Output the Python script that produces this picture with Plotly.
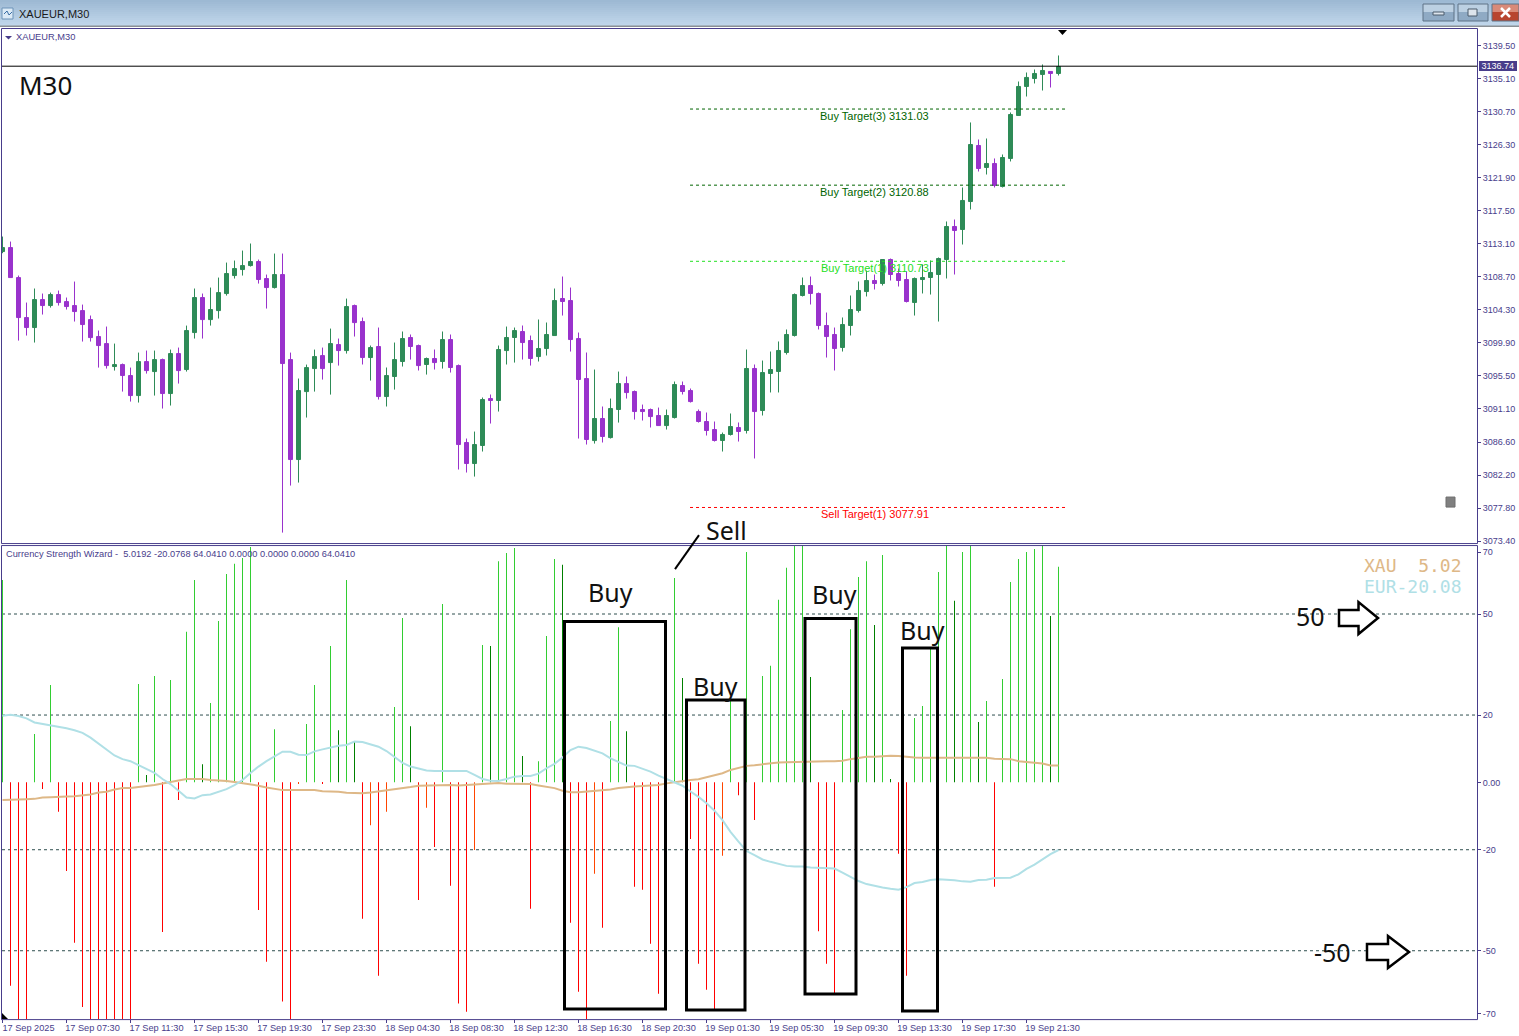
import plotly.graph_objects as go

W, H = 1519, 1036
Y_FIT = 1.003

# ---------- price data (XAUEUR, M30) ----------
opens = [3112.03,3112.56,3108.56,3103.23,3101.90,3105.63,3104.83,3106.30,3105.36,3104.83,3104.16,3102.96,3100.70,3099.76,3096.70,3096.96,3095.50,3092.83,3097.36,3096.03,3097.63,3093.10,3098.43,3096.30,3101.23,3105.90,3102.96,3104.16,3106.43,3108.83,3109.63,3110.16,3110.70,3108.43,3107.23,3108.96,3097.63,3084.30,3093.36,3096.43,3098.16,3097.23,3099.63,3098.83,3104.83,
3102.70,3097.90,3099.37,3092.70,3095.37,3097.37,3100.57,3099.50,3096.97,3097.77,3097.37,3100.30,3096.83,3086.57,3083.77,3086.17,3092.43,3092.17,3098.83,3100.57,3101.37,3100.17,3098.03,3099.10,3100.83,3105.77,3105.50,3100.43,3095.10,3086.83,3089.77,3087.23,3090.97,3094.43,3093.37,3090.97,3090.97,3090.17,3088.83,3089.90,3094.17,3093.50,3090.70,3089.37,
3088.30,3086.84,3087.64,3088.57,3088.17,3096.44,3090.84,3095.77,3096.04,3098.57,3100.84,3106.17,3107.50,3106.44,3102.17,3100.97,3099.24,3102.17,3104.17,3106.70,3108.17,3107.77,3110.97,3109.10,3108.30,3105.24,3108.30,3108.57,3108.97,3110.97,3115.37,3114.97,3118.70,3126.17,3123.24,3123.77,3120.70,3124.44,3130.17,3134.04,3135.10,3135.64,3136.04,3135.77]
closes = [3112.56,3108.56,3103.23,3101.90,3105.63,3104.83,3106.30,3105.23,3104.70,3104.03,3102.30,3100.56,3099.50,3096.83,3096.96,3095.50,3092.83,3097.36,3096.16,3097.63,3093.10,3098.43,3096.16,3101.50,3105.90,3102.96,3104.30,3106.56,3109.10,3109.76,3110.16,3110.70,3108.30,3107.23,3108.96,3097.10,3084.30,3093.50,3096.56,3098.03,3096.43,3099.76,3098.83,3104.70,3102.56,
3097.90,3099.23,3092.70,3095.50,3097.63,3100.43,3099.37,3096.83,3097.77,3097.23,3100.30,3096.57,3086.30,3083.77,3086.30,3092.30,3092.17,3098.97,3100.57,3101.50,3099.90,3097.77,3099.10,3100.97,3105.50,3105.37,3100.30,3094.97,3086.97,3089.77,3087.37,3091.10,3094.43,3093.23,3090.70,3090.70,3090.03,3088.83,3090.17,3094.30,3093.37,3092.03,3089.37,3088.17,
3086.84,3087.64,3088.70,3088.04,3096.44,3090.70,3095.90,3096.30,3098.84,3100.97,3106.30,3107.50,3106.44,3102.17,3100.70,3099.10,3102.30,3104.30,3106.84,3108.17,3107.77,3110.97,3108.97,3108.17,3105.37,3108.44,3108.57,3109.24,3111.10,3115.37,3114.84,3118.84,3126.30,3123.10,3123.77,3120.84,3124.57,3130.30,3134.04,3135.24,3135.77,3136.17,3135.77,3136.70]
highs = [3114.03,3113.36,3108.83,3105.23,3107.10,3106.43,3106.56,3106.83,3105.90,3108.03,3104.96,3103.50,3101.50,3102.03,3099.76,3097.10,3096.56,3098.56,3098.83,3098.83,3097.76,3098.96,3099.23,3102.16,3107.10,3106.43,3107.23,3108.56,3110.56,3110.83,3112.16,3113.10,3110.96,3108.96,3111.76,3111.76,3098.56,3095.10,3096.96,3098.96,3099.23,3101.76,3100.43,3105.76,3104.96,
3103.23,3099.50,3101.90,3096.57,3099.90,3101.37,3100.97,3099.63,3097.90,3098.97,3101.37,3100.97,3096.97,3087.10,3088.03,3092.57,3092.97,3099.50,3102.03,3101.90,3102.17,3100.83,3102.97,3102.57,3107.10,3108.70,3107.23,3101.23,3098.57,3096.30,3091.37,3092.43,3096.03,3095.37,3093.50,3091.63,3091.10,3091.23,3090.97,3094.70,3094.70,3093.77,3090.97,3090.57,
3089.37,3087.90,3090.44,3089.24,3098.97,3096.97,3097.50,3098.70,3100.04,3101.64,3106.44,3108.57,3108.70,3106.57,3103.90,3101.90,3103.24,3106.17,3108.04,3109.50,3108.97,3110.97,3111.10,3109.77,3109.37,3108.57,3110.30,3110.84,3111.24,3116.04,3116.30,3120.57,3129.24,3126.97,3127.10,3124.44,3124.97,3130.57,3134.70,3135.90,3136.30,3136.97,3136.04,3138.17]
lows = [3111.81,3108.56,3100.16,3100.83,3099.90,3103.63,3104.56,3104.83,3104.30,3102.70,3100.03,3100.03,3096.56,3096.43,3096.16,3093.36,3092.03,3091.90,3095.76,3092.83,3091.10,3091.50,3094.43,3096.03,3100.43,3100.43,3102.16,3103.10,3106.16,3108.43,3108.83,3110.03,3107.76,3104.43,3107.10,3074.56,3080.83,3081.23,3089.90,3093.36,3094.96,3092.96,3096.83,3098.43,3100.70,
3096.97,3094.83,3092.30,3091.37,3093.63,3096.70,3097.63,3096.17,3095.63,3096.30,3096.43,3095.90,3082.97,3082.57,3082.03,3085.37,3089.10,3090.70,3096.97,3097.23,3097.63,3096.83,3097.37,3098.17,3100.83,3103.50,3098.70,3087.10,3086.30,3086.43,3086.57,3087.10,3089.23,3092.43,3089.63,3089.50,3088.57,3088.83,3088.30,3089.77,3092.97,3091.90,3089.23,3087.50,
3086.70,3085.37,3087.50,3086.70,3087.77,3084.44,3090.17,3093.24,3093.24,3098.30,3100.70,3106.04,3104.97,3101.64,3097.90,3096.17,3098.70,3100.84,3103.90,3106.04,3106.97,3107.50,3108.17,3107.37,3105.24,3103.50,3106.44,3106.30,3102.70,3108.44,3108.97,3112.97,3117.64,3122.70,3122.30,3120.57,3120.57,3124.04,3130.17,3132.70,3134.44,3133.50,3133.90,3135.50]

# ---------- indicator data (Currency Strength Wizard) ----------
histogram = [60.1,-60.4,-75,-75,14.4,-2,28.9,-8.7,-26.3,-47.6,-66.7,-75,-75,-75,-75,-75,-75,29.2,2.2,31.6,-44.4,30.4,-5.2,44.7,60.1,5.4,23.6,47.9,61.9,64.9,66.6,69.9,-37.9,-53.3,15.8,-65.1,-75,-0.5,17.3,28.9,-0.3,40.5,15.5,60.1,12.3,
-40.5,-12.7,-57.4,-8.7,22.4,48.8,16.7,-34.9,-7.5,-19.2,53,-30.7,-65.7,-68.1,-20.1,40.8,40.5,65.7,68.1,69.6,7.8,-37.5,6.3,43.5,66.3,64.6,-41.7,-62.2,-75,-27.1,-43.2,18.2,46.1,15.2,-31,-31.9,-47.9,-62.8,None,60.7,31,-16.8,-53.9,-61.6,
-67.3,-21.8,24.2,-3.8,68.4,-11.2,31.6,34.6,54.2,63.7,70.2,72,31.3,-44.2,-53.9,-62.6,21.5,45.5,61,65.7,46.7,67.5,1,-21.2,-57.4,19.1,22.7,39.6,62.5,72,53.9,68.4,72,17.9,24.2,-31,30.7,59.5,66.3,68.4,69.3,72,49.4,64.04]
dark_green_bars = [18,25,42,44,51,61,65,70,78,85,101,109,111,119,122,131]
orange_bars = [37,46,48,53,59,74,90]

eur_strength = [19.8,20.1,19.7,19,17.8,17.4,16.9,16.6,16.1,15.5,14.7,13.3,11.6,9.8,8,6.9,6.3,5.1,4,2.8,1,-0.5,-2.5,-4.5,-4.8,-3.8,-3.6,-2.9,-2,-0.8,0.7,2.8,4.7,6.3,7.6,9.1,9.1,8.2,8.1,9.2,9.8,10.4,10.9,11.1,12.1,
12,11.4,10.6,9.3,7.5,5.8,4.7,4,3.5,3.4,3.4,3.4,3.4,3.4,2.2,1,0.5,0.4,1,1.7,1.9,1.9,2.6,4.2,5.5,7.4,9.6,10.6,10.2,9.5,8.6,7.1,6,5,4.9,4,3.2,2,1,0,-1,-2.7,-4.3,-6.2,
-8.4,-11.2,-14.7,-17.6,-20.4,-21.6,-22.9,-23.6,-24.3,-24.8,-25,-25,-25.3,-25.4,-25.5,-25.6,-26.8,-28,-29.3,-30.2,-30.8,-31.2,-31.6,-31.9,-31.1,-29.9,-29.6,-29,-28.8,-28.9,-29.1,-29.4,-29.5,-29,-28.9,-28.4,-28.3,-28.3,-27.3,-25.7,-24.4,-22.8,-21.3,-20.08]
xau_strength = [-5.2,-5.2,-5,-5,-4.9,-4.5,-4.4,-4.4,-4.2,-4.1,-3.9,-3.6,-3,-2.8,-2.1,-1.7,-1.7,-1.5,-1.1,-0.8,-0.4,0,0.4,1,1,1,0.7,0.6,0.4,0.1,-0.2,-0.5,-1,-1.5,-2,-2.3,-2.3,-2.3,-2.3,-2.3,-2.6,-2.6,-2.8,-3.1,-3.2,
-3.2,-3,-2.7,-2.5,-2.1,-1.7,-1.4,-1,-0.9,-0.9,-0.8,-0.8,-0.9,-0.8,-0.7,-0.5,-0.3,-0.2,-0.4,-0.4,-0.4,-0.5,-0.9,-1.4,-1.7,-2.5,-2.9,-2.9,-2.7,-2.5,-2.4,-2.1,-1.7,-1.4,-1.2,-1.1,-1,-0.8,-0.3,0.1,0.4,0.7,0.9,1.5,
2.1,2.7,3.7,4.3,4.9,5.1,5.4,5.6,5.9,6,6.1,6.2,6.3,6.3,6.3,6.3,6.4,6.9,7.3,7.6,7.6,7.8,7.9,7.8,7.5,7.4,7.3,7.3,7.3,7.3,7.3,7.3,7.3,7.3,7.3,7,6.9,6.9,6.3,6.1,5.9,5.6,5,5.02]

bar_index = list(range(len(opens)))

# ---------- axis labels and levels ----------
price_ticks = [3139.50,3135.10,3130.70,3126.30,3121.90,3117.50,3113.10,3108.70,3104.30,3099.90,3095.50,3091.10,3086.60,3082.20,3077.80,3073.40]
time_tick_index = list(range(0, 136, 8))[:17]
time_tick_labels = ["17 Sep 2025","17 Sep 07:30","17 Sep 11:30","17 Sep 15:30","17 Sep 19:30","17 Sep 23:30","18 Sep 04:30","18 Sep 08:30","18 Sep 12:30","18 Sep 16:30","18 Sep 20:30","19 Sep 01:30","19 Sep 05:30","19 Sep 09:30","19 Sep 13:30","19 Sep 17:30","19 Sep 21:30"]
osc_levels = [50, 20, -20, -50]
osc_tick_vals = [68.4, 50, 20, 0, -20, -50, -68.6]
osc_tick_text = ["70", "50", "20", "0.00", "-20", "-50", "-70"]
current_price = 3136.74
target_names = ["Buy Target(3) 3131.03", "Buy Target(2) 3120.88", "Buy Target(1) 3110.73", "Sell Target(1) 3077.91"]
target_prices = [3131.03, 3120.88, 3110.73, 3077.91]
target_colors = ["#006400", "#006400", "#22E022", "#FF0000"]

# ---------- styling ----------
SLATE = "#483D8B"
UP, DOWN = "#2E8B57", "#9932CC"
UI_FONT = "Liberation Sans"
BIG_FONT = "Noto Sans"

def px(x): return x / W
def py(y): return 1 - y * Y_FIT / H

LEFT, RIGHT = 2, 1477
x_range = [(LEFT - 2.5) / 8, (RIGHT - 2.5) / 8]

fig = go.Figure()

fig.add_trace(go.Candlestick(
    x=bar_index, open=opens, high=highs, low=lows, close=closes,
    whiskerwidth=0, xaxis="x", yaxis="y", hoverinfo="skip",
    increasing=dict(line=dict(color=UP, width=1), fillcolor=UP),
    decreasing=dict(line=dict(color=DOWN, width=1), fillcolor=DOWN),
    showlegend=False))

bar_colors = []
for i, v in enumerate(histogram):
    if i in dark_green_bars:
        bar_colors.append("#008000")
    elif i in orange_bars:
        bar_colors.append("#FF4500")
    elif v is not None and v > 0:
        bar_colors.append("#32CD32")
    else:
        bar_colors.append("#FF0000")

fig.add_trace(go.Bar(x=bar_index, y=histogram, width=0.125, marker=dict(color=bar_colors, line=dict(width=0)),
                     xaxis="x2", yaxis="y2", showlegend=False, hoverinfo="skip"))
fig.add_trace(go.Scatter(x=bar_index, y=xau_strength, mode="lines", line=dict(color="#DEB887", width=2),
                         xaxis="x2", yaxis="y2", showlegend=False, hoverinfo="skip"))
fig.add_trace(go.Scatter(x=bar_index, y=eur_strength, mode="lines", line=dict(color="#B0E0E6", width=2),
                         xaxis="x2", yaxis="y2", showlegend=False, hoverinfo="skip"))

shapes = []

def rect(x0, y0, x1, y1, fill=None, line=None, lw=1, layer="above"):
    shapes.append(dict(type="rect", xref="paper", yref="paper", x0=px(x0), x1=px(x1), y0=py(y0), y1=py(y1),
                       fillcolor=fill or "rgba(0,0,0,0)", line=dict(color=line or "rgba(0,0,0,0)", width=lw if line else 0), layer=layer))

def path(points, fill=None, line=None, lw=1):
    d = "M " + " L ".join(f"{px(x):.5f},{py(y):.5f}" for x, y in points) + " Z"
    shapes.append(dict(type="path", xref="paper", yref="paper", path=d, fillcolor=fill or "rgba(0,0,0,0)",
                       line=dict(color=line or "rgba(0,0,0,0)", width=lw if line else 0), layer="above"))

def seg(x0, y0, x1, y1, color="black", lw=1):
    shapes.append(dict(type="line", xref="paper", yref="paper", x0=px(x0), x1=px(x1), y0=py(y0), y1=py(y1),
                       line=dict(color=color, width=lw), layer="above"))

# title bar gradient
tops = ["#9DB9D3", "#A0BBD5", "#A3BED7", "#A6C0D9", "#A9C3DB", "#ACC5DD", "#AFC8DF", "#B2CAE1", "#B5CDE3", "#B8CFE5", "#BBD2E7", "#BED4E9", "#C0D6EA"]
for k, c in enumerate(tops):
    rect(0, k * 2, W, k * 2 + 2, fill=c, layer="below")
rect(0, 25.5, W, 27, fill="#8A8F94", layer="below")
# window buttons
for x0, x1, c0, c1 in [(1423, 1454, "#BCD0E2", "#8FAAC4"), (1458, 1488, "#BCD0E2", "#8FAAC4"), (1492, 1519, "#D98A78", "#B8452F")]:
    rect(x0, 4, x1, 12, fill=c0, layer="above")
    rect(x0, 12, x1, 21, fill=c1, layer="above")
    rect(x0, 4, x1, 21, line="#5F7286", lw=1)
rect(1433, 12, 1444, 15, fill="#DCE4EC", line="#4A5A6A")
rect(1468, 9, 1477, 16, fill="#DCE4EC", line="#4A5A6A")
seg(1501, 8, 1510, 17, "white", 2.5)
seg(1510, 8, 1501, 17, "white", 2.5)
# title icon
rect(2, 8, 13, 19, fill="#DCEAF6", line="#6C93B8")
seg(4, 14, 7, 11, "#3A6EA5", 1)
seg(7, 11, 9, 15, "#3A6EA5", 1)
seg(9, 15, 12, 12, "#3A6EA5", 1)

# window frames
rect(1.5, 28.5, RIGHT + 0.5, 543.5, line=SLATE)
rect(1.5, 545.5, RIGHT + 0.5, 1019.5, line=SLATE)

# oscillator levels
for lv in osc_levels:
    shapes.append(dict(type="line", xref="paper", yref="y2", x0=px(LEFT), x1=px(RIGHT), y0=lv, y1=lv,
                       line=dict(color="#2F4F4F", width=1, dash="3px,3px"), layer="below"))

# target levels
for p, c in zip(target_prices, target_colors):
    shapes.append(dict(type="line", xref="x", yref="y", x0=85.94, x1=133, y0=p, y1=p,
                       line=dict(color=c, width=1, dash="3px,3px"), layer="above"))

# current price line
shapes.append(dict(type="line", xref="paper", yref="y", x0=px(LEFT), x1=px(RIGHT), y0=current_price, y1=current_price,
                   line=dict(color="black", width=1), layer="above"))

# small markers
path([(1058, 30), (1067, 30), (1062.5, 35)], fill="black")
path([(5, 36), (12, 36), (8.5, 39.5)], fill=SLATE)
path([(2, 1013), (2, 1019), (8, 1019)], fill="black")
rect(1446, 497, 1455, 507, fill="#808080", line="#6E6E6E")

# hand-drawn boxes
for x0, y0, x1, y1 in [(564.5, 621.5, 665.5, 1009), (686.5, 700, 745, 1010), (805, 618.5, 856, 994), (902.5, 648, 937.5, 1011)]:
    rect(x0, y0, x1, y1, line="black", lw=3)

# sell stroke
seg(675, 569, 699, 535, "black", 2)

# hollow arrows
def arrow(x0, yc, L):
    path([(x0, yc - 8), (x0 + L * 0.5, yc - 8), (x0 + L * 0.5, yc - 16), (x0 + L, yc),
          (x0 + L * 0.5, yc + 16), (x0 + L * 0.5, yc + 8), (x0, yc + 8)], fill="white", line="black", lw=2.5)
arrow(1339, 618, 39)
arrow(1367, 952, 42)

annotations = []

def text(x, y, s, size, color, font=UI_FONT, anchor="left", bg=None):
    annotations.append(dict(xref="paper", yref="paper", x=px(x), y=py(y), text=s, showarrow=False, xanchor=anchor, yanchor="middle",
                            font=dict(family=font, size=size, color=color), bgcolor=bg, borderpad=0, borderwidth=0))

text(19, 13.5, "XAUEUR,M30", 11, "#1A1A1A", font="Liberation Sans")
text(16, 37, "XAUEUR,M30", 9.3, SLATE)
text(19, 84.5, "M30", 26, "#111111", font=BIG_FONT)
text(6, 554, "Currency Strength Wizard -  5.0192 -20.0768 64.0410 0.0000 0.0000 0.0000 64.0410", 9.25, SLATE)
text(1364, 565.5, "XAU  5.02", 18, "#DEB887", font="DejaVu Sans Mono")
text(1364, 586, "EUR-20.08", 18, "#B0E0E6", font="DejaVu Sans Mono")
text(1479, 66, "&nbsp;" + f"{current_price:.2f}" + "&nbsp;", 9, "white", bg=SLATE)
for name, p, c in zip(target_names, target_prices, target_colors):
    y_lab = 45 + (3139.5 - p) * 7.5 + 7
    text(875, y_lab, name, 11, c, anchor="center")
for x, y, s in [(587.5, 591.5, "Buy"), (692.5, 685.5, "Buy"), (811.5, 593.5, "Buy"), (899.5, 629.5, "Buy"), (706, 530, "Sell"), (1296, 616, "50"), (1314, 952, "-50")]:
    text(x, y, s, 25, "#111111", font=BIG_FONT)

fig.update_layout(
    width=W, height=H, margin=dict(l=0, r=0, t=0, b=0, pad=0), autosize=False,
    paper_bgcolor="white", plot_bgcolor="white", showlegend=False, dragmode=False,
    boxgap=0.5, boxgroupgap=0, barmode="overlay",
    font=dict(family=UI_FONT, size=9, color=SLATE),
    shapes=shapes, annotations=annotations,
    xaxis=dict(domain=[px(LEFT), px(RIGHT)], range=x_range, anchor="y", visible=False,
               rangeslider=dict(visible=False), fixedrange=True, type="linear"),
    yaxis=dict(domain=[py(543), py(29)], range=[3139.5 - (543 - 45.5) / 7.5, 3139.5 - (29 - 45.5) / 7.5], anchor="x", side="right",
               tickvals=price_ticks, ticktext=[f"{v:.2f}" for v in price_ticks], ticks="outside", ticklen=3, tickcolor=SLATE,
               tickfont=dict(family=UI_FONT, size=9, color=SLATE), showgrid=False, zeroline=False, fixedrange=True),
    xaxis2=dict(domain=[px(LEFT), px(RIGHT)], range=x_range, anchor="y2", tickvals=time_tick_index, ticktext=time_tick_labels,
                ticks="outside", ticklen=3, tickcolor=SLATE, tickfont=dict(family=UI_FONT, size=9.2, color=SLATE),
                ticklabelshift=26, ticklabelstandoff=-3, tickangle=0, showgrid=False, zeroline=False, fixedrange=True, type="linear"),
    yaxis2=dict(domain=[py(1019), py(545)], range=[(782.3 - 1019) / 3.367, (782.3 - 545) / 3.367], anchor="x2", side="right",
                tickvals=osc_tick_vals, ticktext=osc_tick_text, ticks="outside", ticklen=3, tickcolor=SLATE,
                tickfont=dict(family=UI_FONT, size=9, color=SLATE), showgrid=False, zeroline=False, fixedrange=True),
)

fig.write_html("out.html", config={"displayModeBar": False},
               post_script="document.body.style.margin='0';document.documentElement.style.overflow='hidden';")
